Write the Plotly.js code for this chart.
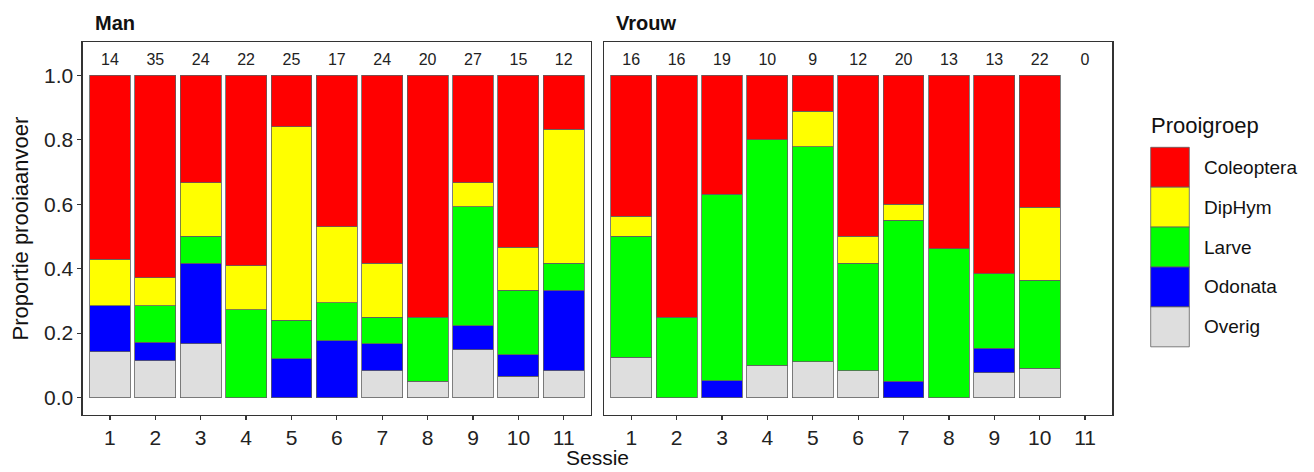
<!DOCTYPE html>
<html>
<head>
<meta charset="utf-8">
<script src="https://cdn.plot.ly/plotly-3.0.1.min.js"></script>
<style>html,body{margin:0;padding:0;background:#fff;}#chart{width:1314px;height:472px;}</style>
</head>
<body>
<div id="chart"></div>
<script>
// ---- data (counts per prey group per session) ----
const sessions = [1,2,3,4,5,6,7,8,9,10,11];
const groups = ["Coleoptera","DipHym","Larve","Odonata","Overig"];
const groupColors = ["#FF0000","#FFFF00","#00FF00","#0000FF","#DEDEDE"];

const manColeoptera = [8,22,8,13,4,8,14,15,9,8,2];
const manDipHym     = [2,3,4,3,15,4,4,0,2,2,5];
const manLarve      = [0,4,2,6,3,2,2,4,10,3,1];
const manOdonata    = [2,2,6,0,3,3,2,0,2,1,3];
const manOverig     = [2,4,4,0,0,0,2,1,4,1,1];

const vrouwColeoptera = [7,12,7,2,1,6,8,7,8,9,0];
const vrouwDipHym     = [1,0,0,0,1,1,1,0,0,5,0];
const vrouwLarve      = [6,4,11,7,6,4,10,6,3,6,0];
const vrouwOdonata    = [0,0,1,0,0,0,1,0,1,0,0];
const vrouwOverig     = [2,0,0,1,1,1,0,0,1,2,0];

const yTickVals = [0,0.2,0.4,0.6,0.8,1.0];
const yTickText = ["0.0","0.2","0.4","0.6","0.8","1.0"];

// ---- build ----
const W = 1314, H = 472;
const px = v => v / W;
const py = v => 1 - v / H;
const FONT = "Liberation Sans, Arial, sans-serif";

const panels = [
  {name:"Man", xa:"x", ya:"y", data:{Coleoptera:manColeoptera, DipHym:manDipHym, Larve:manLarve, Odonata:manOdonata, Overig:manOverig}},
  {name:"Vrouw", xa:"x2", ya:"y2", data:{Coleoptera:vrouwColeoptera, DipHym:vrouwDipHym, Larve:vrouwLarve, Odonata:vrouwOdonata, Overig:vrouwOverig}}
];

const traces = [];
const stackOrder = ["Overig","Odonata","Larve","DipHym","Coleoptera"];
panels.forEach(p => {
  const totals = sessions.map((s,i) => groups.reduce((a,g) => a + p.data[g][i], 0));
  stackOrder.forEach(g => {
    const ci = groups.indexOf(g);
    traces.push({
      type:"bar", x:sessions,
      y:p.data[g].map((c,i) => (totals[i] > 0 && c > 0) ? c / totals[i] : null),
      width:0.9, xaxis:p.xa, yaxis:p.ya, name:g, showlegend:false,
      marker:{color:groupColors[ci], line:{color:"rgb(95,95,95)", width:0.8}},
      hoverinfo:"x+y+name"
    });
  });
  traces.push({
    type:"scatter", mode:"text", x:sessions, y:sessions.map(() => 1.045),
    text:totals.map(String), textposition:"middle center",
    textfont:{family:FONT, size:16, color:"#222"},
    xaxis:p.xa, yaxis:p.ya, showlegend:false, hoverinfo:"skip"
  });
});

const xCommon = {
  range:[0.4,11.6], tickmode:"array", tickvals:sessions, ticktext:sessions.map(String),
  showline:true, mirror:true, linecolor:"#333", linewidth:1.3,
  ticks:"outside", ticklen:4, tickwidth:1.2, tickcolor:"#333",
  showgrid:false, zeroline:false, automargin:false,
  tickfont:{family:FONT, size:21, color:"#222"}
};
const yCommon = {
  range:[-0.0525,1.1025], tickmode:"array", tickvals:yTickVals, ticktext:yTickText,
  showline:true, mirror:true, linecolor:"#333", linewidth:1.3,
  ticks:"outside", ticklen:4, tickwidth:1.2, tickcolor:"#333",
  showgrid:false, zeroline:false, automargin:false,
  tickfont:{family:FONT, size:21, color:"#222"}
};

const yDom = [py(414.5), py(42.3)];
const layout = {
  width:W, height:H,
  margin:{l:0,r:0,t:0,b:0},
  paper_bgcolor:"#fff", plot_bgcolor:"#fff",
  barmode:"stack", showlegend:false,
  font:{family:FONT},
  xaxis:Object.assign({}, xCommon, {domain:[px(82.7), px(591)], anchor:"y"}),
  yaxis:Object.assign({}, yCommon, {domain:yDom, anchor:"x"}),
  xaxis2:Object.assign({}, xCommon, {domain:[px(604), px(1112.3)], anchor:"y2"}),
  yaxis2:Object.assign({}, yCommon, {domain:yDom, anchor:"x2", showticklabels:false, ticks:""}),
  shapes:[], annotations:[]
};

// facet strip titles
layout.annotations.push({xref:"paper", yref:"paper", x:px(93), y:py(22.5), xanchor:"left", yanchor:"middle",
  text:"<b>Man</b>", showarrow:false, font:{family:FONT, size:20, color:"#111"}});
layout.annotations.push({xref:"paper", yref:"paper", x:px(614), y:py(22.5), xanchor:"left", yanchor:"middle",
  text:"<b>Vrouw</b>", showarrow:false, font:{family:FONT, size:20, color:"#111"}});
// axis titles
layout.annotations.push({xref:"paper", yref:"paper", x:px(20), y:py(228.5), xanchor:"center", yanchor:"middle",
  text:"Proportie prooiaanvoer", textangle:-90, showarrow:false, font:{family:FONT, size:22, color:"#111"}});
layout.annotations.push({xref:"paper", yref:"paper", x:px(597), y:py(471), xanchor:"center", yanchor:"bottom",
  text:"Sessie", showarrow:false, font:{family:FONT, size:21, color:"#111"}});

// legend (drawn manually for large keys)
layout.annotations.push({xref:"paper", yref:"paper", x:px(1149), y:py(125), xanchor:"left", yanchor:"middle",
  text:"Prooigroep", showarrow:false, font:{family:FONT, size:22, color:"#111"}});
const keyTop = 147.3, keyH = 39.9;
groups.forEach((g,i) => {
  const y0 = keyTop + i*keyH, y1 = y0 + keyH;
  layout.shapes.push({type:"rect", xref:"paper", yref:"paper",
    x0:px(1150.7), x1:px(1189.3), y0:py(y1), y1:py(y0),
    fillcolor:groupColors[i], line:{color:"rgb(95,95,95)", width:0.8}});
  layout.annotations.push({xref:"paper", yref:"paper", x:px(1202), y:py((y0+y1)/2), xanchor:"left", yanchor:"middle",
    text:g, showarrow:false, font:{family:FONT, size:19, color:"#111"}});
});

Plotly.newPlot("chart", traces, layout, {staticPlot:true, displayModeBar:false});
</script>
</body>
</html>
